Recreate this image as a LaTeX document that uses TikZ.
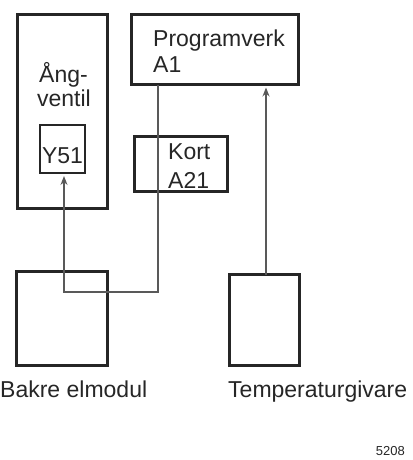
\documentclass[tikz,border=0pt]{standalone}
\usepackage{fontspec}
\setmainfont{Liberation Sans}
\usetikzlibrary{arrows.meta}
\begin{document}
\begin{tikzpicture}[x=1pt,y=-1pt,
 box/.style={draw=black!85, line width=2.8pt, inner sep=0pt, outer sep=0pt},
 lbl/.style={anchor=base west, inner sep=0pt, font=\fontsize{23}{27}\selectfont, text=black!85},
 clbl/.style={lbl, anchor=base},
 wire/.style={draw=black!65, line width=1.4pt},
 arr/.style={wire, -{Stealth[length=9pt,width=7pt]}, shorten >=3pt}]
\useasboundingbox (0,0) rectangle (412,460);
% boxes
\node[box, minimum width=90pt, minimum height=194pt] (ang) at (62.5,111.5) {};
\node[box, minimum width=45pt, minimum height=48pt] (y51) at (62.5,149) {};
\node[box, minimum width=167pt, minimum height=70pt] (prog) at (215,49.5) {};
\node[box, minimum width=93pt, minimum height=55pt] (kort) at (181,164) {};
\node[box, minimum width=91pt, minimum height=94pt] (bakre) at (62,318.5) {};
\node[box, minimum width=70pt, minimum height=91pt] (temp) at (264.5,320) {};
% labels
\node[lbl] (tprog) at (153,47) {Programverk};
\node[lbl] (ta1) at (153,73) {A1};
\node[clbl] (tang) at (63.5,82) {Ång-};
\node[clbl] (tvent) at (64,106) {ventil};
\node[clbl] (ty51) at (62.5,163) {Y51};
\node[lbl] (tkort) at (168,159) {Kort};
\node[lbl] (ta21) at (168,188) {A21};
\node[lbl] (tbakre) at (0,397) {Bakre elmodul};
\node[lbl] (ttemp) at (228,397) {Temperaturgivare};
\node[lbl, anchor=base east, font=\fontsize{13}{15}\selectfont] (tnum) at (405,455) {5208};
% connectors
\coordinate (c1) at (158,292);
\coordinate (c2) at (64,292);
\draw[arr] (prog.south -| c1) -- (c1) -- (c2) -- (y51.south -| c2);
\coordinate (c3) at (266,0);
\draw[arr] (temp.north -| c3) -- (prog.south -| c3);
\end{tikzpicture}
\end{document}
